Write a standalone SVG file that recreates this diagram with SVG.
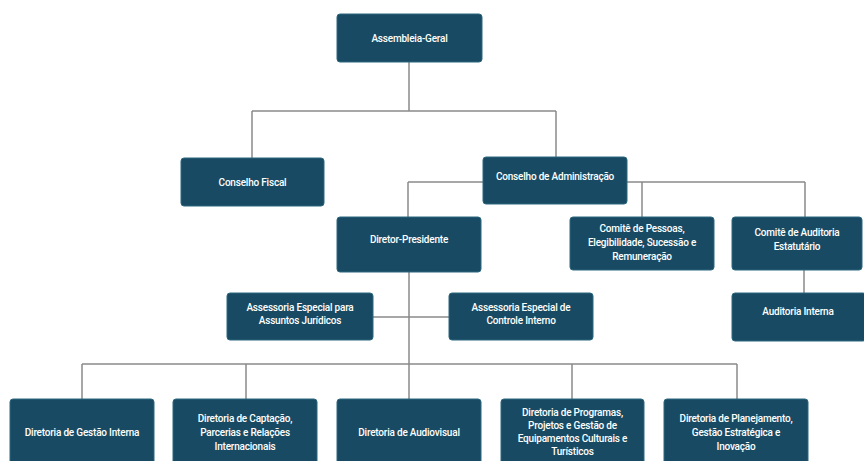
<svg xmlns="http://www.w3.org/2000/svg" width="864" height="461" viewBox="0 0 864 461">
<style>
.box{fill:#184b63;stroke:#2c6880;stroke-width:1}
.t{font-family:Roboto,"Liberation Sans",sans-serif;font-size:10px;font-weight:500;fill:#ffffff;text-anchor:middle;letter-spacing:-0.2px}
.c{fill:none;stroke:#8a8a8a;stroke-width:1.5}
</style>
<rect width="864" height="461" fill="#ffffff"/>
<g id="connectors">
<path class="c" d="M409 62V111M252 111H556M252 111V158M556 111V157"/>
<path class="c" d="M408 182H483M627 182H805M642 182V217M805 182V217M408 182V217"/>
<path class="c" d="M804 270V293"/>
<path class="c" d="M409 272V364M373 317H449"/>
<path class="c" d="M82 364H737M82 364V399M246 364V399M409 364V399M572 364V399M737 364V399"/>
</g>
<g id="assembleia"><rect class="box" x="337" y="14" width="145" height="48" rx="3"/><text class="t" x="409.5" y="41.5">Assembleia-Geral</text></g>
<g id="conselho-fiscal"><rect class="box" x="181" y="158" width="143" height="48" rx="3"/><text class="t" x="252.5" y="185.5">Conselho Fiscal</text></g>
<g id="conselho-admin"><rect class="box" x="483" y="157" width="144" height="47" rx="3"/><text class="t" x="555" y="180">Conselho de Administração</text></g>
<g id="diretor-presidente"><rect class="box" x="337" y="217" width="144" height="55" rx="3"/><text class="t" x="409" y="243">Diretor-Presidente</text></g>
<g id="comite-pessoas"><rect class="box" x="570" y="217" width="144" height="53" rx="3"/><text class="t" x="642" y="232">Comitê de Pessoas,</text><text class="t" x="642" y="246">Elegibilidade, Sucessão e</text><text class="t" x="642" y="260">Remuneração</text></g>
<g id="comite-auditoria"><rect class="box" x="732" y="217" width="130" height="53" rx="3"/><text class="t" x="797" y="236">Comitê de Auditoria</text><text class="t" x="797" y="250">Estatutário</text></g>
<g id="assessoria-juridicos"><rect class="box" x="227" y="293" width="146" height="47" rx="3"/><text class="t" x="300" y="311">Assessoria Especial para</text><text class="t" x="300" y="324">Assuntos Jurídicos</text></g>
<g id="assessoria-controle"><rect class="box" x="449" y="293" width="144" height="47" rx="3"/><text class="t" x="521" y="311">Assessoria Especial de</text><text class="t" x="521" y="324">Controle Interno</text></g>
<g id="auditoria-interna"><rect class="box" x="732" y="293" width="134" height="48" rx="3"/><text class="t" x="798" y="315">Auditoria Interna</text></g>
<g id="dir-gestao"><rect class="box" x="10" y="399" width="144" height="68" rx="3"/><text class="t" x="82" y="436">Diretoria de Gestão Interna</text></g>
<g id="dir-captacao"><rect class="box" x="173" y="399" width="144" height="68" rx="3"/><text class="t" x="245" y="422">Diretoria de Captação,</text><text class="t" x="245" y="436">Parcerias e Relações</text><text class="t" x="245" y="450">Internacionais</text></g>
<g id="dir-audiovisual"><rect class="box" x="337" y="399" width="144" height="68" rx="3"/><text class="t" x="409" y="436">Diretoria de Audiovisual</text></g>
<g id="dir-programas"><rect class="box" x="501" y="399" width="143" height="68" rx="3"/><text class="t" x="572.5" y="416">Diretoria de Programas,</text><text class="t" x="572.5" y="429">Projetos e Gestão de</text><text class="t" x="572.5" y="442">Equipamentos Culturais e</text><text class="t" x="572.5" y="455">Turísticos</text></g>
<g id="dir-planejamento"><rect class="box" x="664" y="399" width="144" height="68" rx="3"/><text class="t" x="736" y="422">Diretoria de Planejamento,</text><text class="t" x="736" y="436">Gestão Estratégica e</text><text class="t" x="736" y="450">Inovação</text></g>
</svg>
